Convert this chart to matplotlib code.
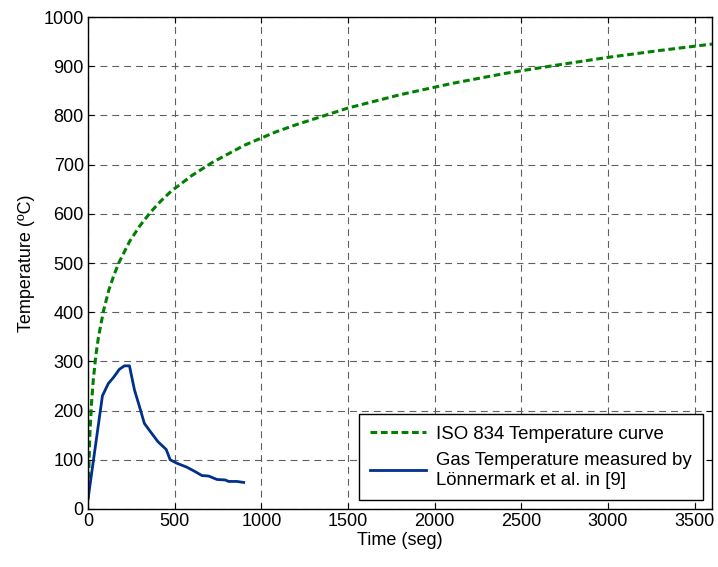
import numpy as np
import matplotlib
matplotlib.use("Agg")
import matplotlib.pyplot as plt

plt.rcParams['font.family'] = ['Liberation Sans', 'DejaVu Sans']

# ISO 834 curve
iso_t = [0, 10, 20, 30, 45, 60, 90, 120, 150, 180, 240, 300, 360, 420, 480,
         600, 720, 900, 1080, 1200, 1500, 1800, 2100, 2400, 2700, 3000, 3300, 3600]
iso_T = [20, 147, 215, 261, 312, 349, 404, 445, 476, 502, 544, 576, 603, 626, 646,
         678, 705, 739, 766, 781, 815, 842, 865, 885, 902, 918, 932, 945]

# measured gas temperature
gas_t = [0, 83, 117, 146, 181, 210, 239, 268, 297, 325, 354, 403, 451, 474,
         513, 570, 618, 657, 696, 744, 792, 811, 859, 898]
gas_T = [20, 230, 255, 267, 284, 291, 291, 242, 208, 174, 160, 137, 121, 100,
         93, 85, 76, 68, 67, 60, 59, 56, 56, 54]

fig = plt.figure(figsize=(7.18, 5.67), dpi=100)
ax = fig.add_axes([0.1226, 0.1023, 0.8690, 0.8677])

ax.plot(iso_t, iso_T, color='#008000', linestyle=(0, (2.2, 1.2)), linewidth=2.2,
        label='ISO 834 Temperature curve')
ax.plot(gas_t, gas_T, color='#00308a', linewidth=2.0,
        label='Gas Temperature measured by\nLönnermark et al. in [9]')

ax.set_xlim(0, 3600)
ax.set_ylim(0, 1000)
ax.set_xticks(np.arange(0, 3501, 500))
ax.set_yticks(np.arange(0, 1001, 100))
ax.tick_params(direction='in', top=True, right=True, labelsize=13, length=4, pad=3)
ax.grid(True, color='#606060', linestyle=(0, (6.2, 4.5)), linewidth=0.8)
for s in ax.spines.values():
    s.set_linewidth(1.0)

ax.set_xlabel('Time (seg)', fontsize=13, labelpad=1)
ax.set_ylabel('Temperature (ºC)', fontsize=13, labelpad=6)

leg = ax.legend(loc='lower right', fontsize=13.4, fancybox=False, framealpha=1,
                edgecolor='black', handlelength=3.0, borderaxespad=0.5,
                labelspacing=0.5, borderpad=0.6, handletextpad=0.55)
leg.get_frame().set_linewidth(1.0)

fig.savefig('out.png', dpi=100)
